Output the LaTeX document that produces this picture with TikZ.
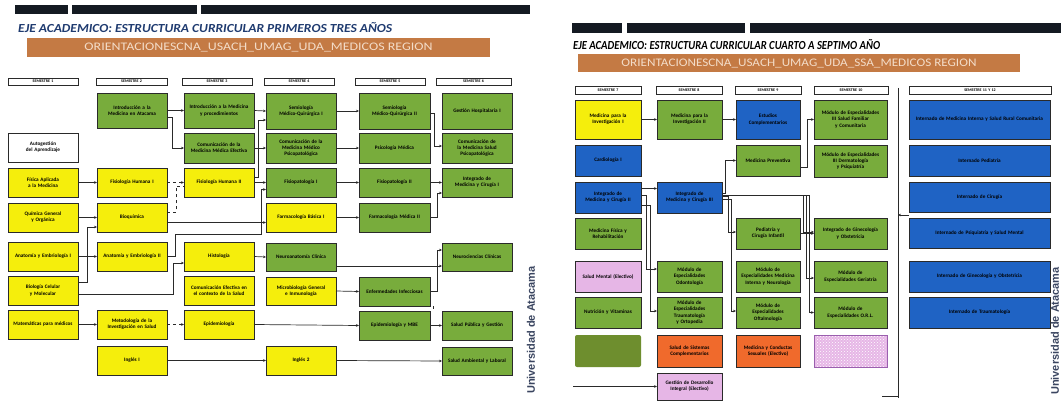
\documentclass[tikz,border=0pt]{standalone}
\usepackage{fontspec}
\setmainfont{Carlito}
\setsansfont{Liberation Sans}
\usetikzlibrary{arrows.meta,patterns}
\hyphenpenalty=10000
\exhyphenpenalty=10000
\lefthyphenmin=64
\definecolor{ylw}{HTML}{F5EE0C}
\definecolor{grn}{HTML}{78AC3C}
\definecolor{blu}{HTML}{1F63C4}
\definecolor{org}{HTML}{F06A2C}
\definecolor{pnk}{HTML}{E6B6E6}
\definecolor{olv}{HTML}{6E8E2E}
\definecolor{brn}{HTML}{C47A44}
\definecolor{brntxt}{HTML}{F3DCC8}
\definecolor{ttl}{HTML}{1F3B70}
\definecolor{edgec}{HTML}{2A2A2A}
\definecolor{univ}{HTML}{3A4560}
\definecolor{barc}{HTML}{141A22}
\definecolor{purp}{HTML}{9A5FAE}
\newcommand{\bx}[7]{%
 \pgfmathsetmacro{\bw}{#4-#2}\pgfmathsetmacro{\bh}{#5-#3}%
 \pgfmathsetmacro{\bcx}{(#2+#4)/2}\pgfmathsetmacro{\bcy}{(#3+#5)/2}%
 \pgfmathsetmacro{\btw}{#4-#2-10}%
 \node[cbox,#6,minimum width=\bw pt,minimum height=\bh pt,text width=\btw pt] (#1) at (\bcx,\bcy) {#7};}
\tikzset{
 x=1pt,y=-1pt,
 cbox/.style={draw=edgec,line width=0.9pt,inner sep=0pt,outer sep=0pt,align=center,
   font=\bfseries\fontsize{5.2}{6.2}\selectfont},
 yb/.style={fill=ylw},
 gb/.style={fill=grn},
 bb/.style={fill=blu},
 ob/.style={fill=org},
 pb/.style={fill=pnk},
 wb/.style={fill=white},
 hd/.style={fill=white,line width=0.8pt,font=\bfseries\fontsize{4}{4}\selectfont},
 ln/.style={draw=edgec,line width=0.7pt},
 arr/.style={ln,-{Stealth[length=3pt,width=2.6pt]}},
}
\begin{document}
\begin{tikzpicture}
\useasboundingbox (0,0) rectangle (1061,401);
\fill[white] (0,0) rectangle (1061,401);
% ---------- LEFT PANEL ----------
\fill[barc] (15,5) rectangle (68,14);
\fill[barc] (72,5) rectangle (197,14);
\fill[barc] (201,5) rectangle (530,14);
\node[anchor=west,inner sep=0pt,text=ttl] (t1) at (18,28)
  {\resizebox{374pt}{10pt}{\bfseries\itshape EJE ACADEMICO: ESTRUCTURA CURRICULAR PRIMEROS TRES AÑOS}};
\node[fill=brn,minimum width=463pt,minimum height=19pt,inner sep=0pt,text=brntxt] (o1) at (258.5,47.5)
  {\resizebox{348pt}{7.5pt}{ORIENTACIONESCNA\_USACH\_UMAG\_UDA\_MEDICOS REGION}};
\bx{h1}{8}{78}{78}{85}{hd}{SEMESTRE 1}
\bx{h2}{96}{78}{167}{85}{hd}{SEMESTRE 2}
\bx{h3}{182}{78}{252}{85}{hd}{SEMESTRE 3}
\bx{h4}{264}{78}{334}{85}{hd}{SEMESTRE 4}
\bx{h5}{355}{78}{425}{85}{hd}{SEMESTRE 5}
\bx{h6}{436}{78}{511}{85}{hd}{SEMESTRE 6}
% column 1
\bx{c1r2}{8}{133}{78}{162}{wb}{Autogestión del Aprendizaje}
\bx{c1r3}{8}{168}{78}{197}{yb}{Física Aplicada a la Medicina}
\bx{c1r4}{8}{203}{78}{232}{yb}{Química General y Orgánica}
\bx{c1r5}{8}{242}{78}{271}{yb}{Anatomía y Embriología I}
\bx{c1r6}{8}{276}{78}{305}{yb}{Biología Celular y Molecular}
\bx{c1r7}{8}{310}{78}{339}{yb}{Matemáticas para médicos}
% column 2
\bx{c2r1}{97}{93}{167}{128}{gb}{Introducción a la Medicina en Atacama}
\bx{c2r3}{97}{168}{167}{197}{yb}{Fisiología Humana I}
\bx{c2r4}{97}{203}{167}{232}{yb}{Bioquímica}
\bx{c2r5}{97}{242}{167}{271}{yb}{Anatomía y Embriología II}
\bx{c2r7}{97}{310}{167}{339}{yb}{Metodología de la Investigación en Salud}
\bx{c2r8}{97}{346}{167}{375}{yb}{Inglés I}
% column 3
\bx{c3r1}{184}{93}{254}{128}{gb}{Introducción a la Medicina y procedimientos}
\bx{c3r2}{184}{133}{254}{163}{gb}{Comunicación de la Medicina Médica Efectiva}
\bx{c3r3}{184}{168}{254}{197}{yb}{Fisiología Humana II}
\bx{c3r5}{184}{242}{254}{271}{yb}{Histología}
\bx{c3r6}{184}{276}{254}{305}{yb}{Comunicación Efectiva en el contexto de la Salud}
\bx{c3r7}{184}{310}{254}{339}{yb}{Epidemiología}
% column 4
\bx{c4r1}{266}{93}{336}{129}{gb}{Semiología Médico-Quirúrgica I}
\bx{c4r2}{266}{133}{336}{163}{gb}{Comunicación de la Medicina Médico Psicopatológica}
\bx{c4r3}{266}{168}{336}{197}{gb}{Fisiopatología I}
\bx{c4r4}{266}{203}{336}{232}{yb}{Farmacología Básica I}
\bx{c4r5}{266}{243}{336}{271}{gb}{Neuroanatomía Clínica}
\bx{c4r6}{266}{277}{336}{305}{yb}{Microbiología General e Inmunología}
\bx{c4r8}{266}{346}{336}{375}{yb}{Inglés 2}
% column 5
\bx{c5r1}{359}{93}{430}{129}{gb}{Semiología Médico-Quirúrgica II}
\bx{c5r2}{359}{133}{430}{163}{gb}{Psicología Médica}
\bx{c5r3}{359}{168}{430}{197}{gb}{Fisiopatología II}
\bx{c5r4}{359}{203}{430}{232}{gb}{Farmacología Médica II}
\bx{c5r6}{359}{277}{430}{306}{gb}{Enfermedades Infecciosas}
\bx{c5r7}{359}{311}{430}{340}{gb}{Epidemiología y MBE}
% column 6
\bx{c6r1}{442}{93}{512}{129}{gb}{Gestión Hospitalaria I}
\bx{c6r2}{442}{133}{512}{163}{gb}{Comunicación de la Medicina Salud Psicopatológica}
\bx{c6r3}{442}{168}{512}{197}{gb}{Integrado de Medicina y Cirugía I}
\bx{c6r5}{442}{243}{512}{271}{gb}{Neurociencias Clínicas}
\bx{c6r7}{442}{311}{512}{340}{gb}{Salud Pública y Gestión}
\bx{c6r8}{442}{347}{512}{375}{gb}{Salud Ambiental y Laboral}
\node[rotate=90,inner sep=0pt,text=univ,font=\sffamily\bfseries\fontsize{11}{11}\selectfont] (u1) at (531,330) {Universidad de Atacama};
% left connectors
\draw[arr] (c2r1.east) -- (c3r1.west);
\draw[arr] ([yshift=-7pt]c2r1.east) -| (172,148) -- (c3r2.west);
\draw[arr] (c1r3.east) -- (c2r3.west);
\draw[arr,dashed] (c2r3.east) -- (c3r3.west);
\draw[arr] (c1r4.east) -- (c2r4.west);
\draw[arr] ([yshift=-5pt]c2r4.east) -- ([yshift=-5pt]c4r4.west);
\draw[ln,dashed] ([yshift=5pt]c2r4.east) -| (176,186.5) -- ([yshift=-4pt]c3r3.west);
\draw[arr] (c3r1.east) -- (c4r1.west);
\draw[arr] (c3r2.east) -- (c4r2.west);
\draw[arr] (c3r3.east) -- (c4r3.west);
\draw[arr] ([yshift=5pt]c3r3.east) -| (258,120) -- ([yshift=-9pt]c4r1.west);
\draw[arr] (c2r5.east) -| (175,234) -| (261,189.5) -- ([yshift=-7pt]c4r3.west);
\draw[arr] (c1r5.east) -- (c2r5.west);
\draw[arr] ([yshift=8pt]c1r6.east) -| (87,227) -- ([yshift=-9.5pt]c2r4.west);
\draw[arr] ([yshift=-4pt]c1r6.east) -| (173,263) -- ([yshift=-6.5pt]c3r5.west);
\draw[arr] (c3r5.east) -- (c4r5.west);
\draw[arr] ([yshift=-9pt]c4r5.east) -- ([yshift=-9pt]c6r5.west);
\draw[arr] (c4r6.east) -- (c5r6.west);
\draw[arr] (c1r7.east) -- (c2r7.west);
\draw[arr,dashed] (c2r7.east) -- (c3r7.west);
\draw[arr] (c3r7.east) -- (c5r7.west);
\draw[arr] (c5r7.east) -- (c6r7.west);
\draw[arr] (c2r8.east) -- (c4r8.west);
\draw[arr] (c4r8.east) -- (c6r8.west);
\draw[arr] (c4r1.east) -- (c5r1.west);
\draw[arr] (c4r2.east) -- (c5r2.west);
\draw[arr] (c4r3.east) -- (c5r3.west);
\draw[arr] (c4r4.east) -- (c5r4.west);
\draw[arr] ([yshift=-2pt]c5r1.east) -| (434,146) -- ([yshift=2pt]c6r2.west);
\draw[arr] (c5r3.east) -- (c6r3.west);
\draw[arr] (c5r4.east) -| (437,193) -- ([yshift=-10.5pt]c6r3.west);
\draw[arr] (c5r6.east) -| (437,250) -- ([yshift=7pt]c6r5.west);
\draw[ln,densely dashed] ([xshift=3pt]c5r6.south east) -- ([xshift=3pt]c5r7.north east);
% ---------- RIGHT PANEL ----------
\fill[barc] (572,23) rectangle (622,33);
\fill[barc] (627,23) rectangle (745,33);
\fill[barc] (750,23) rectangle (1061,33);
\node[anchor=west,inner sep=0pt,text=black] (t2) at (573,45)
  {\resizebox{307pt}{10pt}{\bfseries\itshape EJE ACADEMICO: ESTRUCTURA CURRICULAR CUARTO A SEPTIMO AÑO}};
\node[fill=brn,minimum width=442pt,minimum height=18pt,inner sep=0pt,text=brntxt] (o2) at (799,63.5)
  {\resizebox{355pt}{7.5pt}{ORIENTACIONESCNA\_USACH\_UMAG\_UDA\_SSA\_MEDICOS REGION}};
\bx{h7}{575}{86}{641}{94}{hd}{SEMESTRE 7}
\bx{h8}{656}{86}{722}{94}{hd}{SEMESTRE 8}
\bx{h9}{735}{86}{801}{94}{hd}{SEMESTRE 9}
\bx{h10}{814}{86}{888}{94}{hd}{SEMESTRE 10}
\bx{h11}{909}{86}{1051}{94}{hd}{SEMESTRE 11 Y 12}
% column A
\bx{A1}{575}{100}{641}{139}{yb}{Medicina para la Investigación I}
\bx{A2}{575}{145}{641}{176}{bb}{Cardiología I}
\bx{A3}{575}{182}{641}{213}{bb}{Integrado de Medicina y Cirugía II}
\bx{A4}{575}{218}{641}{249}{gb}{Medicina Física y Rehabilitación}
\bx{A5}{575}{261}{641}{292}{pb}{Salud Mental (Electivo)}
\bx{A6}{575}{297}{641}{328}{gb}{Nutrición y Vitaminas}
\bx{A7}{575}{335}{641}{367}{fill=olv,draw=none,rounded corners=2pt}{}
% column B
\bx{B1}{657}{100}{722}{139}{gb}{Medicina para la Investigación II}
\bx{B3}{657}{182}{722}{213}{bb}{Integrado de Medicina y Cirugía III}
\bx{B5}{657}{261}{722}{292}{gb}{Módulo de Especialidades Odontología}
\bx{B6}{657}{297}{722}{328}{gb}{Módulo de Especialidades Traumatología y Ortopedia}
\bx{B7}{657}{335}{722}{367}{ob}{Salud de Sistemas Complementarios}
\bx{B8}{657}{373}{722}{400}{pb}{Gestión de Desarrollo Integral (Electivo)}
% column C
\bx{C1}{736}{100}{800}{139}{bb}{Estudios Complementarios}
\bx{C2}{736}{145}{800}{176}{gb}{Medicina Preventiva}
\bx{C4}{736}{218}{800}{249}{gb}{Pediatría y Cirugía Infantil}
\bx{C5}{736}{261}{800}{292}{gb}{Módulo de Especialidades Medicina Interna y Neurología}
\bx{C6}{736}{297}{800}{328}{gb}{Módulo de Especialidades Oftalmología}
\bx{C7}{736}{335}{800}{367}{ob}{Medicina y Conductas Sexuales (Electivo)}
% column D
\bx{D1}{814}{100}{887}{139}{gb}{Módulo de Especialidades III Salud Familiar y Comunitaria}
\bx{D2}{814}{145}{887}{177}{gb}{Módulo de Especialidades III Dermatología y Psiquiatría}
\bx{D4}{814}{218}{887}{249}{gb}{Integrado de Ginecología y Obstetricia}
\bx{D5}{814}{261}{887}{292}{gb}{Módulo de Especialidades Geriatría}
\bx{D6}{814}{297}{887}{328}{gb}{Módulo de Especialidades O.R.L.}
\bx{D7}{814}{335}{887}{367}{fill=pnk,draw=purp}{}
\fill[pattern=crosshatch dots,pattern color=white] ([shift={(1pt,-1pt)}]D7.north west) rectangle ([shift={(-1pt,1pt)}]D7.south east);
% column E
\bx{E1}{909}{100}{1050}{139}{bb}{Internado de Medicina Interna y Salud Rural Comunitaria}
\bx{E2}{909}{145}{1050}{176}{bb}{Internado Pediatría}
\bx{E3}{909}{182}{1050}{212}{bb}{Internado de Cirugía}
\bx{E4}{909}{218}{1050}{248}{bb}{Internado de Psiquiatría y Salud Mental}
\bx{E5}{909}{261}{1050}{292}{bb}{Internado de Ginecología y Obstetricia}
\bx{E6}{909}{297}{1050}{328}{bb}{Internado de Traumatología}
\node[rotate=90,inner sep=0pt,text=univ,font=\sffamily\bfseries\fontsize{11}{11}\selectfont] (u2) at (1055,331) {Universidad de Atacama};
% right connectors
\draw[arr] (A1.east) -- (B1.west);
\draw[arr] (B1.east) -- (C1.west);
\draw[arr] ([yshift=-7pt]C2.east) -| (807,119.5) -- (D1.west);
\draw[arr] ([yshift=9pt]A3.east) -- ([yshift=9pt]B3.west);
\draw[arr] ([yshift=4pt]B3.east) -| (725,160.5) -- (C2.west);
\draw[arr] ([yshift=2pt]A3.east) -| (646,269) -- ([yshift=7.5pt]B5.west);
\draw[arr] ([yshift=-8pt]A3.east) -| (650,311) -- ([yshift=1.5pt]B6.west);
\draw[arr] ([yshift=1pt]B3.east) -| (728,232) -- ([yshift=1.5pt]C4.west);
\draw[arr] ([yshift=-2pt]B3.east) -| (731,311) -- ([yshift=1.5pt]C6.west);
\draw[arr] ([yshift=2pt]B3.east) -| (803,232) -- ([yshift=1.5pt]D4.west);
\draw[arr] ([yshift=2pt]B3.east) -| (806,278) -- ([yshift=-1.5pt]D5.west);
\draw[arr] ([yshift=2pt]B3.east) -| (809,312.5) -- (D6.west);
\draw[arr] (C4.east) -- (D4.west);
\coordinate (fr) at (573,386.5);
\draw[arr] (fr) -- (B8.west);
\coordinate (vt) at (898,88);
\coordinate (vb) at (898,398);
\draw[ln] (vt) -- (vb);
\coordinate (ea) at (909,215);
\coordinate (ev) at (898,215);
\draw[arr] (ea) -- (ev);
\coordinate (tk) at (882,396);
\draw[ln] (tk) -- (tk -| vb);
\end{tikzpicture}
\end{document}
